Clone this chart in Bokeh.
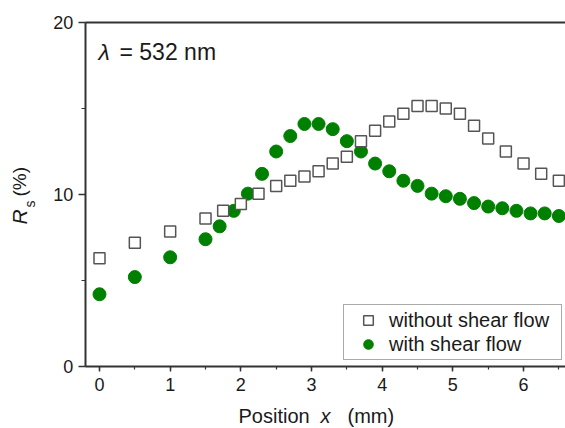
import math
from bokeh.plotting import figure
from bokeh.models import (Label, SingleIntervalTicker, Range1d, Legend, LegendItem,
                          LinearAxis)
from bokeh.embed import file_html
from bokeh.resources import INLINE

# ---- data ----
x_without = [0, 0.5, 1.0, 1.5, 1.75, 2.0, 2.25, 2.5, 2.7, 2.9, 3.1, 3.3, 3.5, 3.7,
             3.9, 4.1, 4.3, 4.5, 4.7, 4.9, 5.1, 5.3, 5.5, 5.75, 6.0, 6.25, 6.5]
y_without = [6.3, 7.2, 7.85, 8.6, 9.05, 9.45, 10.05, 10.5, 10.8, 11.05, 11.35, 11.8, 12.2, 13.1,
             13.7, 14.25, 14.7, 15.15, 15.15, 15.0, 14.7, 14.0, 13.25, 12.5, 11.8, 11.2, 10.8]

x_with = [0, 0.5, 1.0, 1.5, 1.7, 1.9, 2.1, 2.3, 2.5, 2.7, 2.9, 3.1, 3.3, 3.5, 3.7,
          3.9, 4.1, 4.3, 4.5, 4.7, 4.9, 5.1, 5.3, 5.5, 5.7, 5.9, 6.1, 6.3, 6.5]
y_with = [4.2, 5.2, 6.35, 7.4, 8.15, 9.05, 10.05, 11.2, 12.5, 13.4, 14.1, 14.1, 13.8, 13.1, 12.5,
          11.8, 11.35, 10.8, 10.5, 10.05, 9.9, 9.75, 9.5, 9.3, 9.2, 9.05, 8.9, 8.9, 8.75]

series_labels = ["without shear flow", "with shear flow"]
annotation_text = ["\u03bb", "= 532 nm"]
x_title = ["Position", "x", "(mm)"]
y_title = ["R", "s", "(%)"]

# ---- layout: the frame covers the whole canvas; axes sit at fixed locations ----
W, H = 565, 428
X_LO, X_HI = -0.2, 6.6          # visible axis extent
Y_LO, Y_HI = 0, 20
PX0, PXU = 99.0, 70.67           # pixel of x=0, pixels per x unit
PY0, PYU = 366.0, 17.2           # pixel of y=0, pixels per y unit
XS, XE = -PX0 / PXU, (W - PX0) / PXU
YS, YE = -(H - PY0) / PYU, PY0 / PYU
FONT = "Liberation Sans"
AX = "#333333"
TXT = "#1a1a1a"
BASE_SHIFT = 0.4                 # baseline correction, in em


def dx(px):
    return XS + px / W * (XE - XS)


def dy(py):
    return YE - py / H * (YE - YS)


p = figure(width=W, height=H, output_backend="svg", toolbar_location=None,
           x_range=Range1d(XS, XE), y_range=Range1d(YS, YE),
           x_axis_location=None, y_axis_location=None,
           min_border=0, min_border_left=0, min_border_right=0,
           min_border_top=0, min_border_bottom=0)
p.outline_line_color = None
p.grid.visible = False
p.background_fill_color = "white"
p.border_fill_color = "white"

xa = LinearAxis(fixed_location=Y_LO, bounds=(X_LO, X_HI),
                ticker=SingleIntervalTicker(interval=1, num_minor_ticks=2))
ya = LinearAxis(fixed_location=X_LO, bounds=(Y_LO, Y_HI),
                ticker=SingleIntervalTicker(interval=10, num_minor_ticks=2))
ta = LinearAxis(fixed_location=Y_HI, bounds=(X_LO, X_HI),
                ticker=SingleIntervalTicker(interval=1, num_minor_ticks=2))
for ax in (xa, ya, ta):
    ax.axis_line_width = 2
    ax.axis_line_color = AX
    ax.major_tick_line_color = AX
    ax.major_tick_line_width = 1.5
    ax.minor_tick_line_color = AX
    ax.minor_tick_line_width = 1.2
    ax.major_tick_in = 0
    ax.minor_tick_in = 0
    ax.major_label_text_font = FONT
    ax.major_label_text_font_size = "18px"
    ax.major_label_text_color = TXT
xa.major_tick_out = 5
xa.minor_tick_out = 3
xa.major_label_standoff = 6
ya.major_tick_out = 7
ya.minor_tick_out = 4
ya.major_label_standoff = 5
ta.major_tick_line_color = None
ta.minor_tick_line_color = None
ta.major_label_text_color = None
p.add_layout(xa, "below")
p.add_layout(ya, "left")
p.add_layout(ta, "above")

r_with = p.scatter(x_with, y_with, marker="circle", size=13,
                   fill_color="#008000", line_color="#008000")
r_without = p.scatter(x_without, y_without, marker="square", size=11,
                      fill_color="white", line_color="#555555", line_width=1.5)

legend = Legend(items=[LegendItem(label=series_labels[0], renderers=[r_without]),
                       LegendItem(label=series_labels[1], renderers=[r_with])],
                location=(343, H - 360), padding=3, spacing=0,
                glyph_width=42, glyph_height=24, label_height=24,
                label_standoff=0, label_width=169,
                label_text_font=FONT, label_text_font_size="20px",
                label_text_color=TXT,
                border_line_color="#555555", border_line_width=1,
                background_fill_color="white", background_fill_alpha=1.0)
p.add_layout(legend)


def hlabel(txt, px, py, size, style="normal"):
    # (px, py): left end of the text baseline, in picture pixels
    p.add_layout(Label(x=dx(px), y=dy(py - BASE_SHIFT * size), text=txt, text_font=FONT,
                       text_font_style=style, text_font_size=f"{size}px",
                       text_align="left", text_baseline="alphabetic", text_color=TXT))


def vlabel(txt, px, py, size, style="normal"):
    # rotated 90 degrees; (px, py): start of the baseline, in picture pixels
    p.add_layout(Label(x=dx(px - BASE_SHIFT * size), y=dy(py), text=txt, text_font=FONT,
                       text_font_style=style, text_font_size=f"{size}px",
                       angle=math.pi / 2, text_align="left", text_baseline="alphabetic",
                       text_color=TXT))


# lambda annotation
hlabel(annotation_text[0], 98, 61, 23, "italic")
hlabel(annotation_text[1], 119, 61, 23)

# x axis title: Position x (mm)
hlabel(x_title[0], 238, 423, 20)
hlabel(x_title[1], 320, 423, 20, "italic")
hlabel(x_title[2], 347, 423, 20)

# y axis title: R_s (%)
vlabel(y_title[0], 27, 224, 21, "italic")
vlabel(y_title[1], 35, 207, 14)
vlabel(y_title[2], 27, 196, 19)

open("out.html", "w").write(file_html(p, INLINE))
